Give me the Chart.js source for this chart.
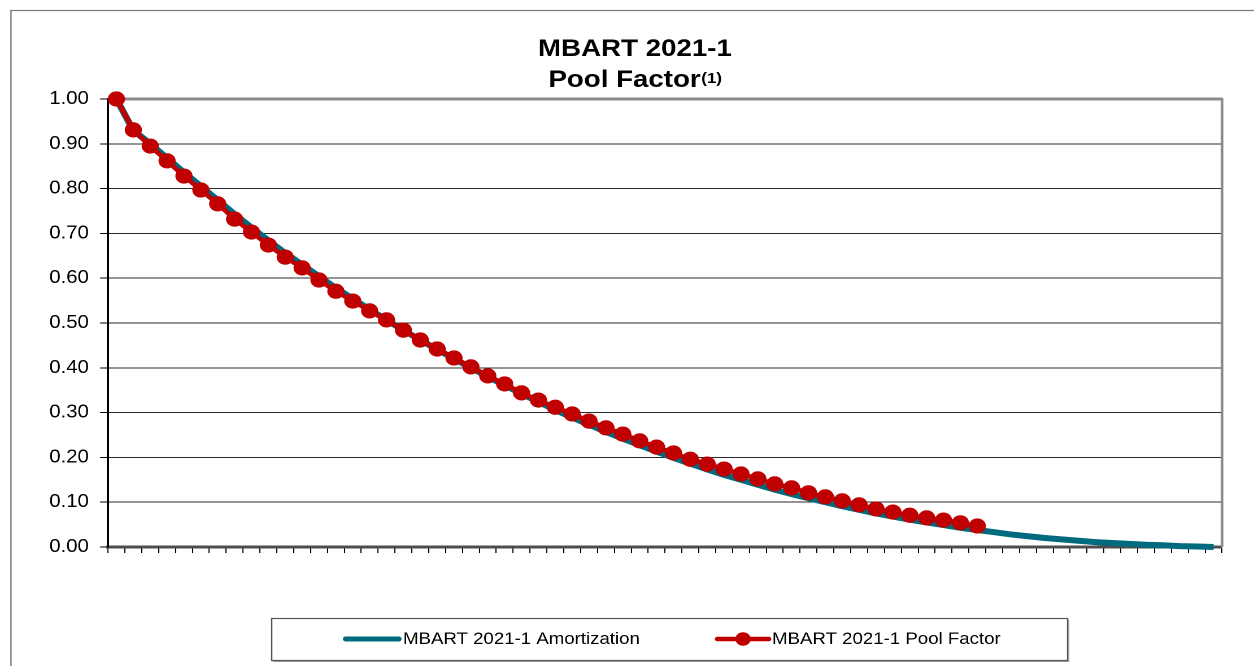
<!DOCTYPE html>
<html>
<head>
<meta charset="utf-8">
<script src="https://cdn.jsdelivr.net/npm/chart.js@4.4.1/dist/chart.umd.min.js"></script>
<style>
  html, body { margin: 0; padding: 0; background: #fff; overflow: hidden; }
  #wrap { position: absolute; left: 0; top: 0; width: 1110px; height: 666px;
          transform: scaleX(1.12973); transform-origin: 0 0; }
</style>
</head>
<body>
<div id="wrap"><canvas id="c"></canvas></div>
<script>
// ---- data ----
const periods = ['1','2','3','4','5','6','7','8','9','10','11','12','13','14','15','16','17','18','19','20',
  '21','22','23','24','25','26','27','28','29','30','31','32','33','34','35','36','37','38','39','40',
  '41','42','43','44','45','46','47','48','49','50','51','52','53','54','55','56','57','58','59','60',
  '61','62','63','64','65','66'];

const amortization = [1.000, 0.930, 0.900, 0.868, 0.836, 0.805, 0.774, 0.743, 0.713, 0.684,
  0.656, 0.630, 0.604, 0.578, 0.554, 0.530, 0.507, 0.484, 0.462, 0.441,
  0.420, 0.400, 0.380, 0.361, 0.342, 0.324, 0.306, 0.289, 0.273, 0.257,
  0.242, 0.227, 0.213, 0.199, 0.186, 0.173, 0.161, 0.150, 0.139, 0.128,
  0.118, 0.109, 0.100, 0.091, 0.083, 0.075, 0.068, 0.061, 0.055, 0.049,
  0.043, 0.038, 0.033, 0.028, 0.024, 0.020, 0.017, 0.014, 0.011, 0.009,
  0.007, 0.005, 0.004, 0.002, 0.001, 0.000];

const poolFactor = [1.000, 0.931, 0.895, 0.862, 0.828, 0.797, 0.766, 0.732, 0.703, 0.674,
  0.647, 0.623, 0.596, 0.571, 0.549, 0.527, 0.507, 0.484, 0.462, 0.442,
  0.422, 0.402, 0.382, 0.364, 0.344, 0.328, 0.312, 0.297, 0.281, 0.266,
  0.252, 0.237, 0.223, 0.210, 0.196, 0.185, 0.174, 0.163, 0.152, 0.141,
  0.132, 0.121, 0.112, 0.103, 0.094, 0.085, 0.078, 0.071, 0.065, 0.060,
  0.054, 0.047];

const yTicks = [0, 0.1, 0.2, 0.3, 0.4, 0.5, 0.6, 0.7, 0.8, 0.9, 1.0];
const seriesNames = ['MBART 2021-1 Amortization', 'MBART 2021-1 Pool Factor'];
const titleLine1 = 'MBART 2021-1';
const titleLine2 = 'Pool Factor';
const titleSup = '(1)';

const TEAL = '#006A7E';
const RED = '#C00000';
const FONT = "'Liberation Sans', Arial, sans-serif";

Chart.defaults.font.family = FONT;
Chart.defaults.color = '#000';

const deco = {
  id: 'deco',
  beforeDraw(chart) {
    const ctx = chart.ctx;
    ctx.save();
    ctx.fillStyle = '#fff';
    ctx.fillRect(0, 0, chart.width, chart.height);
    ctx.strokeStyle = '#7a7a7a';
    ctx.lineWidth = 1.2;
    ctx.strokeRect(9.7, 10.5, 1200, 700);
    ctx.restore();
  },
  afterDraw(chart) {
    const ctx = chart.ctx;
    const a = chart.chartArea;
    ctx.save();
    // plot-area right border
    ctx.strokeStyle = '#8c8c8c';
    ctx.lineWidth = 2.4;
    ctx.beginPath();
    ctx.moveTo(a.right, a.top - 1);
    ctx.lineTo(a.right, a.bottom);
    ctx.stroke();

    // title
    const cx = 562;
    ctx.fillStyle = '#000';
    ctx.textBaseline = 'alphabetic';
    ctx.textAlign = 'center';
    ctx.font = 'bold 24.5px ' + FONT;
    ctx.fillText(titleLine1, cx, 56);
    const w1 = ctx.measureText(titleLine2).width;
    ctx.font = 'bold 15px ' + FONT;
    const w2 = ctx.measureText(titleSup).width;
    const start = cx - (w1 + w2) / 2;
    ctx.textAlign = 'left';
    ctx.font = 'bold 24.5px ' + FONT;
    ctx.fillText(titleLine2, start, 87);
    ctx.font = 'bold 15px ' + FONT;
    ctx.fillText(titleSup, start + w1 + 0.5, 83);

    // legend
    const lx = 240, ly = 618, lw = 704.5, lh = 42;
    ctx.strokeStyle = '#555';
    ctx.lineWidth = 1.2;
    ctx.strokeRect(lx + 0.5, ly + 0.5, lw, lh);
    ctx.strokeStyle = '#999';
    ctx.lineWidth = 1;
    ctx.beginPath();
    ctx.moveTo(lx + 1.5, ly + lh + 1.5);
    ctx.lineTo(lx + lw + 1.5, ly + lh + 1.5);
    ctx.lineTo(lx + lw + 1.5, ly + 1.5);
    ctx.stroke();
    const my = 639;
    ctx.lineCap = 'round';
    ctx.strokeStyle = TEAL;
    ctx.lineWidth = 5;
    ctx.beginPath(); ctx.moveTo(306, my); ctx.lineTo(353, my); ctx.stroke();
    ctx.strokeStyle = RED;
    ctx.lineWidth = 4.5;
    ctx.beginPath(); ctx.moveTo(635, my); ctx.lineTo(680.5, my); ctx.stroke();
    ctx.fillStyle = RED;
    ctx.beginPath(); ctx.arc(657.7, my, 6.8, 0, Math.PI * 2); ctx.fill();
    ctx.fillStyle = '#000';
    ctx.font = '16.5px ' + FONT;
    ctx.textBaseline = 'middle';
    ctx.textAlign = 'left';
    ctx.fillText(seriesNames[0], 356.7, my + 0.5);
    ctx.fillText(seriesNames[1], 683.4, my + 0.5);
    ctx.restore();
  }
};

new Chart(document.getElementById('c'), {
  type: 'line',
  data: {
    labels: periods,
    datasets: [
      {
        label: seriesNames[0],
        data: amortization,
        borderColor: TEAL,
        backgroundColor: TEAL,
        borderWidth: 6,
        pointRadius: 0,
        tension: 0,
        clip: false,
        order: 1
      },
      {
        label: seriesNames[1],
        data: poolFactor,
        borderColor: RED,
        backgroundColor: RED,
        borderWidth: 4.5,
        pointRadius: 7.6,
        pointBorderWidth: 0,
        pointBackgroundColor: RED,
        tension: 0,
        clip: false,
        order: 0
      }
    ]
  },
  options: {
    responsive: true,
    maintainAspectRatio: false,
    devicePixelRatio: 2,
    animation: false,
    events: [],
    layout: { padding: { top: 99, right: 28.3, left: 0, bottom: 0 } },
    plugins: { legend: { display: false }, title: { display: false }, tooltip: { enabled: false } },
    scales: {
      x: {
        type: 'category',
        offset: true,
        grid: { offset: true, drawOnChartArea: false, drawTicks: true, tickLength: 6, tickColor: '#000', tickWidth: 1 },
        border: { color: '#4d4d4d', width: 3 },
        ticks: { display: false },
        afterFit(s) { s.height = 119; }
      },
      y: {
        min: 0,
        max: 1,
        afterBuildTicks(s) { s.ticks = yTicks.map(v => ({ value: v })); },
        grid: {
          color: c => (c.tick && c.tick.value === 1) ? '#8c8c8c' : '#2a2a2a',
          lineWidth: c => (c.tick && c.tick.value === 1) ? 3 : 1,
          drawTicks: true,
          tickLength: 7,
          tickColor: '#000',
          tickWidth: 1
        },
        border: { color: '#000', width: 2 },
        ticks: {
          padding: 10,
          font: { size: 18 },
          color: '#000',
          callback: v => Number(v).toFixed(2)
        },
        afterFit(s) { s.width = 95.6; }
      }
    }
  },
  plugins: [deco]
});
</script>
</body>
</html>
